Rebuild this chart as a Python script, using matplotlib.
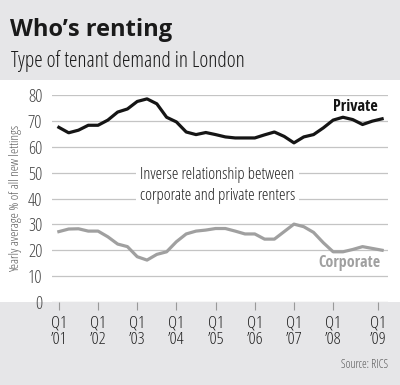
import matplotlib
matplotlib.use("Agg")
import matplotlib.pyplot as plt
from matplotlib.patches import Rectangle
import numpy as np

# quarterly data, Q1 2001 onwards
private = [67.5, 65.4, 66.4, 68.3, 68.3, 70.3, 73.4, 74.6, 77.5, 78.5, 76.6, 71.4,
           69.6, 65.7, 64.7, 65.5, 64.7, 63.8, 63.4, 63.4, 63.4, 64.6, 65.7, 64.0,
           61.5, 63.8, 64.7, 67.3, 70.3, 71.4, 70.5, 68.6, 69.9, 70.8]
corporate = [27.2, 28.2, 28.3, 27.4, 27.4, 25.2, 22.4, 21.4, 17.5, 16.2, 18.4, 19.4,
             23.3, 26.3, 27.4, 27.8, 28.4, 28.4, 27.4, 26.3, 26.3, 24.3, 24.3, 27.2,
             30.1, 29.1, 26.9, 22.9, 19.4, 19.4, 20.3, 21.4, 20.7, 20.0]
tick_pos = [0, 4, 8, 12, 16, 20, 24, 28, 32.6]
tick_labels = ["Q1\n\u201901", "Q1\n\u201902", "Q1\n\u201903", "Q1\n\u201904", "Q1\n\u201905",
               "Q1\n\u201906", "Q1\n\u201907", "Q1\n\u201908", "Q1\n\u201909"]

plt.rcParams['font.family'] = ['Open Sans', 'DejaVu Sans']
plt.rcParams['font.stretch'] = 'condensed'
cond_bold = ['Open Sans Condensed', 'Open Sans', 'DejaVu Sans']

W, H = 400, 385
fig = plt.figure(figsize=(W / 100, H / 100), dpi=100)
fig.patch.set_facecolor('#e6e6e8')
# white band behind the chart
fig.add_artist(Rectangle((0, (H - 302) / H), 1, (302 - 80) / H,
                         transform=fig.transFigure, facecolor='white',
                         edgecolor='none', zorder=0))

ax = fig.add_axes([52 / W, (H - 302) / H, (388 - 52) / W, (302 - 95) / H])
ax.set_facecolor('none')
x = np.arange(len(private))
ax.plot(x, private, color='#151515', lw=2.3, solid_joinstyle='round', zorder=3)
ax.plot(x, corporate, color='#a0a0a0', lw=2.3, solid_joinstyle='round', zorder=3)

ax.set_ylim(0, 80)
ax.set_xlim(-0.7, 33.6)
ax.set_yticks(range(0, 81, 10))
ax.yaxis.grid(True, color='#c4c4c4', lw=0.9)
ax.set_axisbelow(True)
for s in ax.spines.values():
    s.set_visible(False)
ax.tick_params(axis='y', length=0, pad=7, labelsize=13, labelcolor='#444444')
ax.set_xticks(tick_pos)
ax.set_xticklabels(tick_labels, fontsize=12.5, color='#222222', linespacing=1.0)
ax.tick_params(axis='x', length=6, width=0.8, color='#999999', pad=4)
ax.set_ylabel('Yearly average % of all new lettings', fontsize=9.5, color='#555555',
              labelpad=4)

ax.text(16.2, 45, 'Inverse relationship between\ncorporate and private renters',
        ha='center', va='center', fontsize=12, color='#222222', linespacing=1.4,
        bbox=dict(facecolor='white', edgecolor='none', pad=3), zorder=4)
ax.text(32.6, 75.3, 'Private', ha='right', va='center', fontsize=11.7,
        fontweight='bold', color='#151515', family=cond_bold)
ax.text(32.8, 15.0, 'Corporate', ha='right', va='center', fontsize=11.5,
        fontweight='bold', color='#a0a0a0', family=cond_bold)

fig.text(10 / W, 1 - 36 / H, 'Who\u2019s renting', fontsize=17, fontweight='bold',
         color='#1a1a1a', va='baseline')
fig.text(11 / W, 1 - 67 / H, 'Type of tenant demand in London', fontsize=15.5,
         color='#1a1a1a', va='baseline')
fig.text(388 / W, 1 - 368 / H, 'Source: RICS', fontsize=8.5, color='#555555',
         ha='right', va='baseline')

fig.savefig('out.png', dpi=100, facecolor=fig.get_facecolor())
